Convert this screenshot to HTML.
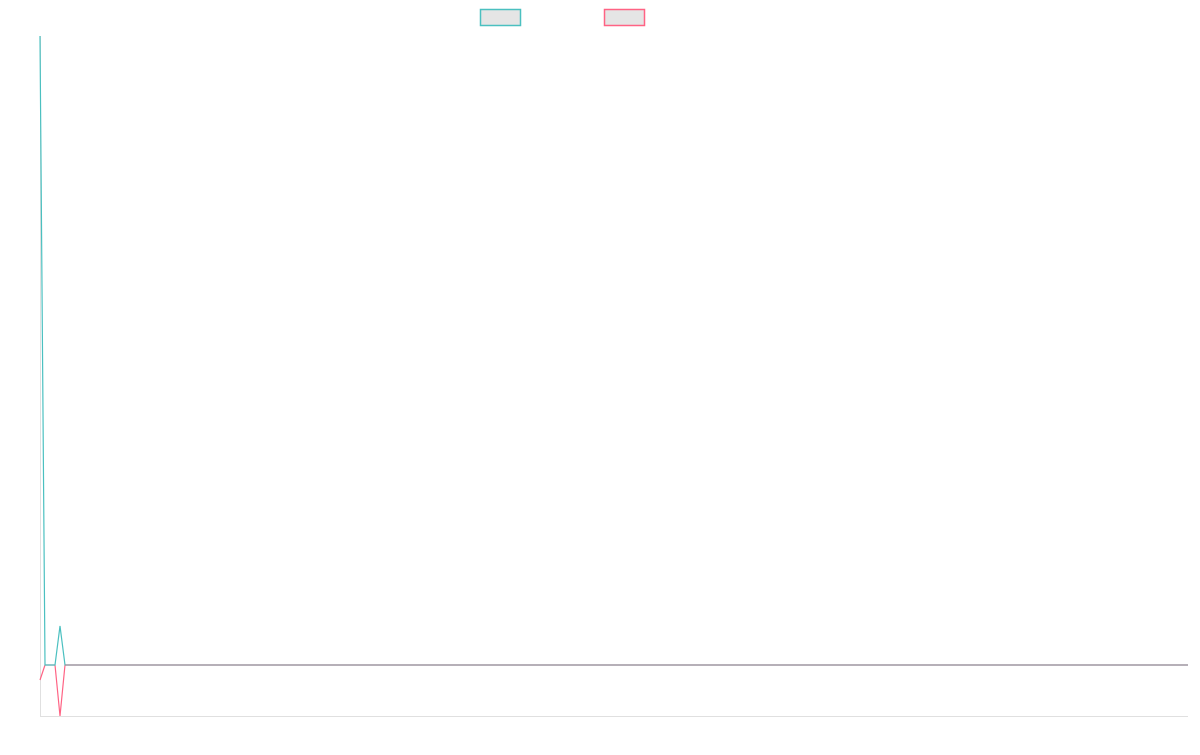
<!DOCTYPE html>
<html><head><style>body{margin:0;background:#fff}</style></head><body>
<svg width="1200" height="750" xmlns="http://www.w3.org/2000/svg">
<rect x="480.5" y="9.5" width="40" height="16" fill="#e5e5e5" stroke="#4bc0c0" stroke-width="1.5"/>
<rect x="604.5" y="9.5" width="40" height="16" fill="#e5e5e5" stroke="#ff6384" stroke-width="1.5"/>
<line x1="40.5" y1="36" x2="40.5" y2="716" stroke="#e0e0e0"/>
<line x1="40" y1="716.5" x2="1188" y2="716.5" stroke="#e0e0e0"/>
<polyline fill="none" stroke="#ff6384" stroke-width="1.2" points="40,680 45,665 55,665 60,716 65,665 1188,665"/>
<polyline fill="none" stroke="#4bc0c0" stroke-width="1.2" points="40,36 45,665 55,665 60,626 65,665 1188,665"/>
<line x1="65" y1="665" x2="1188" y2="665" stroke="#9a8f99" stroke-width="1"/>
</svg>
</body></html>
